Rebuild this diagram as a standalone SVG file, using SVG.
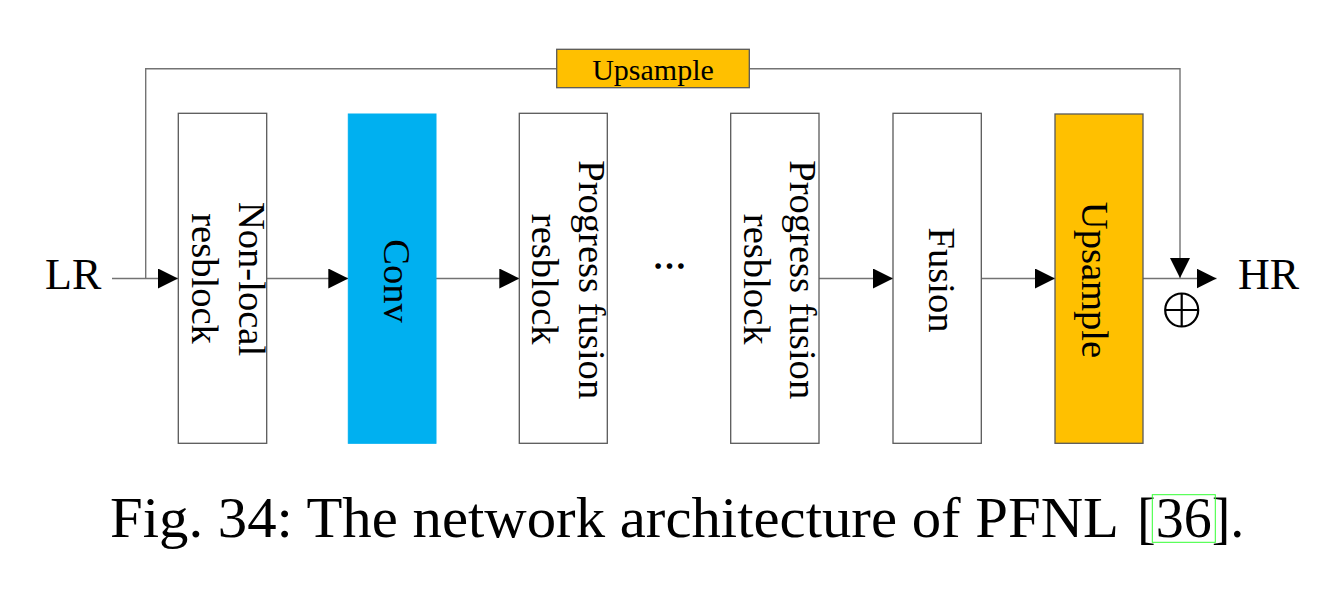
<svg xmlns="http://www.w3.org/2000/svg" width="1338" height="602" viewBox="0 0 1338 602">
<style>
.box{fill:#ffffff;stroke:#595959;stroke-width:1.3}
.orange{fill:#ffc000;stroke:#595959;stroke-width:1.3}
.blue{fill:#00b0f0;stroke:#00b0f0;stroke-width:1}
.lbl{font-family:"Liberation Serif","Times New Roman",serif;font-size:38.6px;fill:#000;text-anchor:middle}
.io{font-family:"Liberation Serif","Times New Roman",serif;font-size:44px;fill:#000}
.conn{fill:none;stroke:#737373;stroke-width:1.4}
.cap{font-family:"Liberation Serif","Times New Roman",serif;font-size:56px;fill:#000}
.sym{fill:none;stroke:#000;stroke-width:2.2}
</style>
<defs>
<marker id="arr" markerUnits="userSpaceOnUse" markerWidth="21" markerHeight="21" refX="20" refY="10" orient="auto" viewBox="0 0 21 21">
<path d="M0,0 L20,10 L0,20 z" fill="#000"/>
</marker>
</defs>
<rect width="1338" height="602" fill="#ffffff"/>

<g id="connectors">
<path class="conn" d="M112,278.5 H178" marker-end="url(#arr)"/>
<path class="conn" d="M145.7,278.5 V68.7 H1180 V278" marker-end="url(#arr)"/>
<path class="conn" d="M266.7,278.5 H348.3" marker-end="url(#arr)"/>
<path class="conn" d="M436,278.5 H519.3" marker-end="url(#arr)"/>
<path class="conn" d="M819,278.5 H893" marker-end="url(#arr)"/>
<path class="conn" d="M981.3,278.5 H1055" marker-end="url(#arr)"/>
<path class="conn" d="M1143,278.5 H1216.5" marker-end="url(#arr)"/>
</g>

<g id="LR"><text class="io" x="45" y="289">LR</text></g>
<g id="HR"><text class="io" x="1238" y="289">HR</text></g>

<g id="upsample-skip">
<rect class="orange" x="556.7" y="49.3" width="192.6" height="38.4"/>
<text x="653" y="80" style="font-family:'Liberation Serif','Times New Roman',serif;font-size:30px;text-anchor:middle">Upsample</text>
</g>

<g id="nonlocal">
<rect class="box" x="178.3" y="113.3" width="88.4" height="330"/>
<text class="lbl" transform="translate(238.5,279) rotate(90)">Non-local</text>
<text class="lbl" transform="translate(192,278.5) rotate(90)">resblock</text>
</g>

<g id="conv">
<rect class="blue" x="348.3" y="114" width="87.7" height="329.3"/>
<text class="lbl" transform="translate(384,281) rotate(90)">Conv</text>
</g>

<g id="progress1">
<rect class="box" x="519.3" y="113.3" width="88" height="330"/>
<text class="lbl" transform="translate(579,279.7) rotate(90)">Progress fusion</text>
<text class="lbl" transform="translate(532.3,279.2) rotate(90)">resblock</text>
</g>

<g id="dots"><text x="669.5" y="267.5" style="font-family:'Liberation Serif','Times New Roman',serif;font-size:34px;text-anchor:middle;stroke:#000;stroke-width:1.6">…</text></g>

<g id="progress2">
<rect class="box" x="730.7" y="113.3" width="88.3" height="330"/>
<text class="lbl" transform="translate(790,279.7) rotate(90)">Progress fusion</text>
<text class="lbl" transform="translate(743.8,279.2) rotate(90)">resblock</text>
</g>

<g id="fusion">
<rect class="box" x="893" y="113.3" width="88.3" height="330"/>
<text class="lbl" transform="translate(929,280) rotate(90)">Fusion</text>
</g>

<g id="upsample">
<rect class="orange" x="1055" y="114" width="88" height="329.3"/>
<text class="lbl" transform="translate(1082,280) rotate(90)">Upsample</text>
</g>

<g id="add">
<circle class="sym" cx="1181.7" cy="310" r="16.5"/>
<path class="sym" d="M1165.2,310 H1198.2 M1181.7,293.5 V326.5"/>
</g>

<g id="caption">
<text class="cap" x="110" y="537.3" textLength="1009" lengthAdjust="spacingAndGlyphs">Fig. 34: The network architecture of PFNL</text>
<text class="cap" x="1137" y="537.3">[36].</text>
<rect x="1152.3" y="494.7" width="63" height="47.6" fill="none" stroke="#33ff33" stroke-width="1"/>
</g>
</svg>
